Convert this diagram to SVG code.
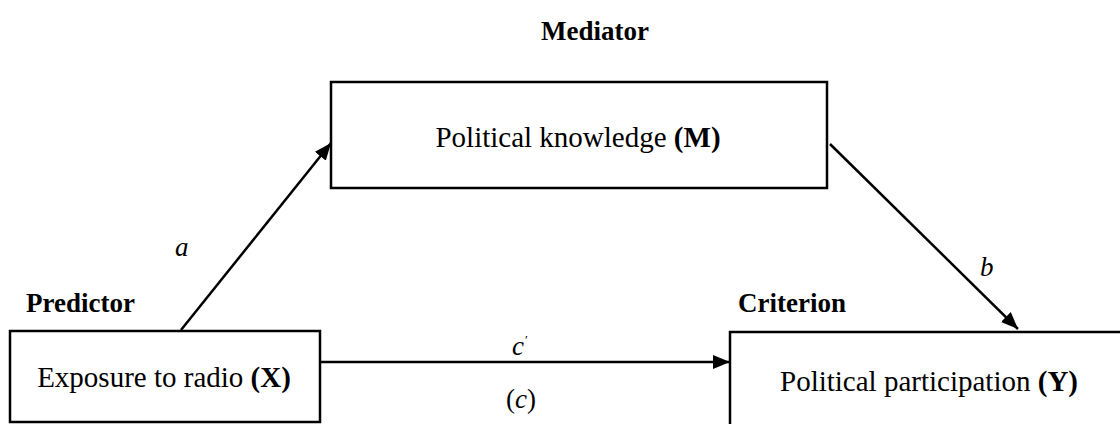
<svg xmlns="http://www.w3.org/2000/svg" width="1120" height="424" viewBox="0 0 1120 424">
<style>
.b{font-weight:bold}
.i{font-style:italic}
.box{fill:#fff;stroke:#000;stroke-width:2.5}
.ln{stroke:#000;stroke-width:2.5;fill:none}
</style>
<defs>
<marker id="ah" markerWidth="17" markerHeight="14" refX="17" refY="7" orient="auto" markerUnits="userSpaceOnUse" viewBox="0 0 17 14">
<path d="M0,0 L17,7 L0,14 Z" fill="#000"/>
</marker>
</defs>
<text class="b" x="595" y="40" text-anchor="middle" font-family="Liberation Serif, serif" font-size="27">Mediator</text>
<text class="b" x="26" y="312" font-family="Liberation Serif, serif" font-size="27">Predictor</text>
<text class="b" x="738" y="312" font-family="Liberation Serif, serif" font-size="27">Criterion</text>
<g id="mediator">
<rect class="box" x="331" y="82" width="496" height="106"/>
<text x="578" y="147" text-anchor="middle" font-family="Liberation Serif, serif" font-size="29">Political knowledge <tspan class="b">(M)</tspan></text>
</g>
<g id="predictor">
<rect class="box" x="10" y="331" width="310" height="91"/>
<text x="164" y="387" text-anchor="middle" font-family="Liberation Serif, serif" font-size="29">Exposure to radio <tspan class="b">(X)</tspan></text>
</g>
<g id="criterion">
<rect class="box" x="730" y="332" width="400" height="110"/>
<text x="929" y="391" text-anchor="middle" font-family="Liberation Serif, serif" font-size="29">Political participation <tspan class="b">(Y)</tspan></text>
</g>
<g id="connectors">
<line class="ln" x1="181" y1="330" x2="331" y2="143" marker-end="url(#ah)"/>
<line class="ln" x1="830" y1="144" x2="1018" y2="329" marker-end="url(#ah)"/>
<line class="ln" x1="320" y1="362" x2="730" y2="362" marker-end="url(#ah)"/>
</g>
<text class="i" x="175" y="256" font-family="Liberation Serif, serif" font-size="27">a</text>
<text class="i" x="980" y="276" font-family="Liberation Serif, serif" font-size="27">b</text>
<text class="i" x="512" y="355" font-family="Liberation Serif, serif" font-size="27">c</text>
<text x="525" y="344" font-family="Liberation Serif, serif" font-size="13">′</text>
<text x="521" y="408" text-anchor="middle" font-family="Liberation Serif, serif" font-size="27">(<tspan class="i">c</tspan>)</text>
</svg>
